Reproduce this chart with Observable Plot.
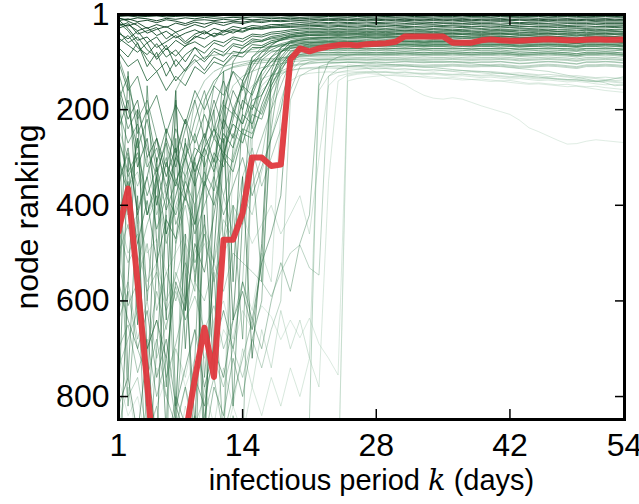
<!DOCTYPE html>
<html><head><meta charset="utf-8">
<script src="https://cdn.jsdelivr.net/npm/d3@7"></script>
<script src="https://cdn.jsdelivr.net/npm/@observablehq/plot@0.6"></script>
<style>body{margin:0;background:#fff;} svg{display:block}</style>
</head><body><div id="chart"></div>
<script>
const days = [1,2,3,4,5,6,7,8,9,10,11,12,13,14,15,16,17,18,19,20,21,22,23,24,25,26,27,28,29,30,31,32,33,34,35,36,37,38,39,40,41,42,43,44,45,46,47,48,49,50,51,52,53,54];
const xTickValues = [1, 14, 28, 42, 54];
const yTickValues = [1, 200, 400, 600, 800];
const xLabel = "infectious period k (days)";
const yLabel = "node ranking";

// highlighted node (red)
const redNode = "455 365 562 773 1000 1200 1250 880 763 | 656 759 472 472 416 300 300 318 315 | 95 72 78 72 68 65 64 66 63 | 62 61 58 47 47 47 47 47 60 | 60 60 55 53 55 56 56 55 54 | 53 54 55 55 54 53 54 54 53";

// nodes that stay near the top
const stableNodes = [
"2 2 1 2 3 2 2 1 2 | 1 2 2 1 1 2 1 2 1 | 1 1 2 1 1 1 2 1 1 | 1 1 1 2 1 1 1 1 1 | 2 1 1 1 1 1 1 2 1 | 1 1 1 1 1 1 1 1 1",
"5 4 6 5 4 6 5 4 5 | 4 5 3 4 4 3 4 3 3 | 4 3 3 4 3 4 3 3 4 | 3 4 3 3 3 4 3 3 3 | 3 4 3 3 3 3 4 3 3 | 3 3 3 3 4 3 3 3 3",
"9 12 8 10 14 9 11 8 10 | 7 9 8 7 8 6 7 6 7 | 6 7 6 6 5 6 6 5 6 | 6 5 6 6 5 6 6 5 5 | 6 5 5 6 5 5 6 5 5 | 6 5 5 5 6 5 5 5 6",
"14 10 16 13 18 12 15 20 13 | 12 14 11 13 10 12 11 9 10 | 9 10 9 8 9 9 8 9 8 | 9 8 8 9 8 8 9 8 8 | 9 8 8 8 9 8 8 8 9 | 8 8 9 8 8 8 9 8 8",
"20 25 18 30 22 28 19 24 17 | 21 16 18 15 17 14 15 13 14 | 12 13 12 11 12 11 12 11 11 | 12 11 11 12 11 11 12 11 11 | 11 12 11 11 11 12 11 11 12 | 11 11 11 12 11 11 11 12 11",
"8 15 24 40 32 26 38 30 22 | 28 19 24 18 20 16 18 15 16 | 15 14 15 14 13 14 14 13 14 | 14 13 14 14 13 14 14 14 13 | 14 14 13 14 14 14 13 14 14 | 13 14 14 14 13 14 14 14 14",
"30 22 35 28 45 36 50 40 33 | 42 30 36 26 30 24 26 22 22 | 20 18 19 17 18 17 18 17 17 | 18 17 17 16 17 17 18 17 17 | 16 17 17 17 16 17 18 17 17 | 16 17 17 17 17 16 17 17 17",
"12 30 55 48 70 58 45 62 50 | 38 46 34 40 30 32 28 26 24 | 23 22 21 21 20 21 20 20 21 | 20 20 21 20 19 20 21 20 20 | 20 19 20 20 21 20 20 19 20 | 20 21 20 20 20 19 20 20 20",
"40 52 36 60 48 75 55 68 46 | 52 40 44 35 38 30 32 28 27 | 26 25 24 24 23 24 23 23 24 | 23 23 24 23 22 23 23 24 23 | 23 22 23 23 23 24 23 22 23 | 23 23 24 23 23 22 23 23 23",
"25 18 42 35 28 52 38 58 42 | 35 48 38 32 36 28 30 29 28 | 28 27 27 26 27 26 26 27 26 | 26 26 25 26 26 27 26 26 25 | 26 26 26 27 26 25 26 26 26 | 26 25 26 26 27 26 26 26 25",
"50 65 80 60 95 72 88 66 58 | 70 55 60 48 52 42 44 38 36 | 33 31 30 30 29 30 29 29 30 | 29 30 29 28 29 29 30 29 29 | 28 29 30 29 29 28 29 30 29 | 29 28 29 29 30 29 29 28 29",
"60 45 70 85 62 90 75 100 70 | 82 60 68 52 58 46 48 42 40 | 36 34 33 33 32 33 32 32 33 | 32 33 32 31 32 33 32 32 33 | 32 31 32 33 32 32 31 32 32 | 33 32 32 31 32 32 33 32 32",
"35 60 48 75 90 65 110 85 70 | 95 72 80 62 66 52 55 47 44 | 40 38 36 36 35 36 35 35 36 | 35 36 35 34 35 35 36 35 35 | 34 35 36 35 35 35 34 35 35 | 35 36 35 35 34 35 35 35 36",
"70 90 60 110 80 130 95 120 85 | 100 78 88 66 72 56 58 50 47 | 43 41 39 39 38 39 38 38 39 | 38 39 38 37 38 38 39 38 38 | 37 38 39 38 38 37 38 39 38 | 38 37 38 38 39 38 38 37 38",
"18 35 62 95 120 100 140 115 95 | 118 90 100 78 82 64 66 56 52 | 46 44 42 42 41 42 41 41 42 | 41 42 41 40 41 41 42 41 41 | 40 41 42 41 41 40 41 42 41 | 41 40 41 41 42 41 41 40 41",
"80 110 95 140 120 160 130 150 110 | 125 100 108 86 90 70 70 60 55 | 49 47 45 45 44 45 44 44 45 | 44 45 44 43 44 44 45 44 44 | 43 44 45 44 44 43 44 45 44 | 44 43 44 44 45 44 44 43 44"
];

// nodes that drift in from mid ranks
const driftNodes = [
"150 220 180 300 260 340 280 380 300 | 250 310 220 260 180 200 140 110 80 | 60 55 52 50 49 50 49 48 49 | 48 49 48 47 48 48 49 48 48 | 47 48 49 48 48 47 48 49 48 | 48 47 48 48 49 48 48 47 48",
"240 180 320 260 400 310 360 270 330 | 280 240 300 200 230 160 120 90 70 | 58 55 54 53 52 53 52 52 53 | 52 53 52 51 52 52 53 52 52 | 51 52 53 52 52 51 52 53 52 | 52 51 52 52 53 52 52 51 52",
"100 160 130 210 170 250 190 230 160 | 200 150 170 120 140 100 90 75 66 | 60 58 57 56 55 56 55 55 56 | 55 56 55 54 55 56 55 55 54 | 55 56 55 55 54 55 56 55 55 | 54 55 55 56 55 55 54 55 56",
"300 380 260 420 340 460 380 300 360 | 280 330 250 280 210 230 170 130 90 | 66 62 60 59 58 59 58 58 59 | 58 59 58 57 58 59 58 58 57 | 58 59 58 58 57 58 59 58 58 | 57 58 58 59 58 58 57 58 59",
"180 130 250 200 310 240 290 220 270 | 210 260 190 210 150 170 120 100 80 | 68 65 63 62 61 62 61 61 62 | 61 62 61 60 61 62 61 61 60 | 61 62 61 61 60 61 62 61 61 | 60 61 61 62 61 61 60 61 62",
"420 350 480 390 520 430 470 380 440 | 350 400 300 330 250 260 190 140 95 | 72 68 66 65 64 65 64 64 65 | 64 65 64 63 64 65 64 64 63 | 64 65 64 64 63 64 65 64 64 | 63 64 64 65 64 64 63 64 65",
"120 200 280 220 330 270 350 300 250 | 320 260 290 230 250 190 210 150 110 | 78 72 70 69 68 69 68 68 69 | 68 69 68 67 68 69 68 68 67 | 68 69 68 68 67 68 69 68 68 | 67 68 68 69 68 68 67 68 69",
"260 330 290 380 320 410 350 390 310 | 360 290 320 250 270 210 220 160 120 | 84 76 74 73 72 73 72 72 73 | 72 73 72 71 72 73 72 72 71 | 72 73 72 72 71 72 73 72 72 | 71 72 72 73 72 72 71 72 73",
"200 270 230 320 280 360 300 340 280 | 300 240 270 210 230 180 170 130 105 | 85 80 78 77 76 77 76 76 77 | 76 77 76 75 76 77 76 76 75 | 76 77 76 76 75 77 78 77 76 | 75 76 77 78 76 76 75 76 77",
"350 290 410 340 450 380 420 350 400 | 330 370 290 310 240 250 200 150 115 | 92 85 82 81 80 81 80 80 81 | 80 81 80 79 80 81 80 80 79 | 80 81 80 80 79 80 82 81 80 | 79 80 81 83 80 80 79 80 82"
];

// nodes that jump up from low ranks
const jumpNodes = [
"520 610 560 700 640 760 690 600 250 | 180 140 120 110 105 100 98 96 95 | 92 90 89 88 88 87 88 87 87 | 88 87 87 86 87 88 87 87 86 | 87 88 87 87 86 87 89 88 87 | 86 87 88 90 87 87 86 87 89",
"900 1000 950 1100 980 1050 920 860 950 | 880 300 200 150 130 120 112 108 104 | 100 98 96 95 95 94 95 94 94 | 95 94 94 93 94 95 94 94 93 | 94 95 94 94 93 94 96 95 94 | 93 94 95 97 94 94 93 94 96",
"450 520 480 580 540 620 570 640 590 | 660 610 700 640 560 200 150 130 120 | 110 106 104 102 101 102 101 101 102 | 101 102 101 100 101 102 101 101 100 | 101 102 101 101 100 102 104 103 101 | 100 101 103 105 101 101 100 101 103",
"700 800 760 880 820 940 870 780 860 | 800 720 780 700 760 680 740 660 600 | 180 130 118 112 110 108 109 108 108 | 109 108 108 107 108 109 108 108 107 | 108 109 108 108 107 109 111 110 108 | 107 108 110 112 108 108 107 108 110",
"1000 1100 1050 1200 1100 1000 1080 950 1020 | 900 980 860 300 180 150 135 128 122 | 118 115 114 114 113 114 113 113 114 | 113 114 115 114 116 117 116 118 119 | 118 120 121 120 122 124 123 125 127 | 126 128 130 129 131 133 132 134 136",
"380 450 420 500 470 540 500 460 520 | 480 540 500 460 420 480 440 400 460 | 420 380 460 300 150 130 125 122 120 | 121 120 122 121 123 124 123 125 126 | 125 127 128 127 129 131 130 132 134 | 133 135 137 136 138 140 139 141 143",
"800 900 860 960 900 1000 940 880 1000 | 960 1050 1000 1100 1050 1000 1080 1020 1100 | 1050 1000 1080 1050 1100 1000 130 126 124 | 126 128 127 129 131 130 132 134 133 | 135 137 136 138 140 139 142 145 144 | 146 148 147 150 152 151 154 156 158",
"620 560 680 600 720 650 580 640 560 | 600 520 580 500 520 539 560 591 540 | 500 483 531 546 130 115 110 108 106 | 107 106 106 105 106 107 106 106 105 | 106 107 106 106 105 107 109 108 106 | 105 106 108 110 106 106 105 106 108",
"760 840 800 900 820 760 700 780 720 | 680 740 660 700 620 660 610 633 681 | 640 677 636 690 720 755 140 135 132 | 130 128 129 131 130 133 135 134 136 | 138 137 139 141 140 143 145 147 146 | 148 150 152 151 154 157 160 162 164",
"300 360 330 420 380 460 410 350 300 | 260 320 280 230 270 200 160 140 125 | 118 114 112 111 110 111 110 110 111 | 110 111 110 109 110 111 110 110 109 | 110 111 110 110 109 111 113 112 110 | 109 110 112 114 110 110 109 110 112",
"860 780 900 820 740 800 700 760 660 | 720 640 600 680 560 620 500 560 200 | 140 128 124 122 121 122 121 121 122 | 121 122 123 122 124 125 124 126 127 | 126 128 130 129 131 133 132 134 136 | 135 137 139 138 140 142 141 143 145",
"240 300 360 300 420 360 480 400 520 | 460 560 480 400 440 360 300 180 130 | 108 104 102 101 100 101 100 100 101 | 100 101 100 99 100 101 100 100 99 | 100 101 100 100 99 101 103 102 100 | 99 100 102 104 100 100 99 100 102",
"1100 1000 1150 1050 950 1050 900 980 880 | 950 850 900 820 880 780 840 760 820 | 740 800 720 780 350 140 128 124 122 | 123 122 124 126 125 127 126 128 130 | 129 131 133 132 134 136 135 137 139 | 138 140 142 141 143 146 148 147 149",
"500 440 560 480 620 540 600 520 580 | 180 140 120 112 108 104 102 100 98 | 96 94 93 92 92 91 92 91 91 | 92 91 91 90 91 92 91 91 90 | 91 92 91 91 90 91 93 92 91 | 90 91 92 94 91 91 90 91 93",
"950 880 1000 920 980 860 940 820 900 | 780 860 740 820 700 780 660 740 620 | 700 640 720 160 130 122 118 116 114 | 115 114 116 117 116 118 119 118 120 | 122 121 123 125 124 126 128 127 129 | 131 130 132 134 133 135 137 139 138",
"1000 920 1050 980 1100 1000 160 120 100 | 90 86 84 82 80 79 78 77 77 | 76 75 74 74 73 74 73 73 74 | 73 74 73 72 73 74 73 73 72 | 73 74 73 73 72 73 75 74 73 | 72 73 75 77 73 73 72 73 75",
"700 650 750 680 800 720 850 300 180 | 140 120 110 104 100 97 95 93 92 | 90 88 87 86 86 85 86 85 85 | 86 85 85 84 85 86 85 85 84 | 85 86 85 85 84 85 87 86 85 | 84 85 86 88 85 85 84 85 87",
"820 760 880 700 640 720 560 620 480 | 540 420 300 220 140 90 70 60 55 | 52 50 49 48 48 47 48 47 47 | 48 47 47 46 47 48 47 47 46 | 47 48 47 47 46 47 49 48 47 | 46 47 48 50 47 47 46 47 49",
"360 280 420 340 260 380 300 220 340 | 260 180 240 160 200 120 90 66 52 | 44 40 38 37 37 36 37 36 36 | 37 36 36 35 36 37 36 36 35 | 36 37 36 36 35 36 38 37 36 | 35 36 37 39 36 36 35 36 38",
"1050 980 1100 1000 900 960 820 880 760 | 820 700 760 640 580 660 520 140 80 | 66 62 60 59 58 59 58 58 59 | 58 59 58 57 58 59 58 58 57 | 58 59 58 58 57 58 60 59 58 | 57 58 59 61 58 58 57 58 60",
"560 640 700 620 760 680 820 740 660 | 780 700 620 700 560 640 520 460 380 | 120 70 62 60 59 60 59 59 60 | 59 60 59 58 59 60 59 59 58 | 59 60 59 59 58 59 61 60 59 | 58 59 60 62 59 59 58 59 61",
"260 340 300 420 360 300 440 380 460 | 400 340 420 360 300 380 320 260 200 | 90 72 68 66 65 66 65 65 66 | 65 66 65 64 65 66 65 65 64 | 65 66 65 65 64 65 67 66 65 | 64 65 66 68 65 65 64 65 67",
"160 240 200 280 340 260 320 240 180 | 260 200 140 200 150 110 80 64 54 | 48 45 43 42 42 41 42 41 41 | 42 41 41 40 41 42 41 41 40 | 41 42 41 41 40 41 43 42 41 | 40 41 42 44 41 41 40 41 43",
"980 1100 900 960 860 920 800 860 720 | 280 150 110 90 80 74 70 68 67 | 66 65 64 64 63 64 63 63 64 | 63 64 63 62 63 64 63 63 62 | 63 64 63 63 62 63 65 64 63 | 62 63 64 66 63 63 62 63 65",
"640 580 700 760 680 800 860 780 900 | 840 760 880 800 720 640 700 600 520 | 580 480 420 150 100 90 86 84 83 | 84 83 83 82 83 84 83 83 82 | 83 84 83 83 82 83 85 84 83 | 82 83 84 86 83 83 82 83 85",
"90 150 220 180 260 320 240 300 220 | 160 240 180 120 160 100 80 70 62 | 57 54 52 51 51 50 51 50 50 | 51 50 50 49 50 51 50 50 49 | 50 51 50 50 49 50 52 51 50 | 49 50 51 53 50 50 49 50 52",
"1150 1050 1000 1080 980 900 1000 920 840 | 900 780 840 720 800 680 600 200 100 | 80 76 74 73 73 72 73 72 72 | 73 72 72 71 72 73 72 72 71 | 72 73 72 72 71 72 74 73 72 | 71 72 73 75 72 72 71 72 74",
"460 400 520 440 380 480 400 340 440 | 360 300 380 300 240 320 260 200 150 | 100 88 86 85 84 85 84 84 85 | 84 85 84 83 84 85 84 84 83 | 84 85 84 84 83 84 86 85 84 | 83 84 85 87 84 84 83 84 86",
"740 680 620 700 580 660 540 600 500 | 440 520 380 460 340 280 360 300 240 | 160 110 100 97 96 97 96 96 97 | 96 97 96 95 96 97 96 96 95 | 96 97 96 96 95 96 98 97 96 | 95 96 97 99 96 96 95 96 98",
"880 960 1020 940 1080 1000 960 1040 920 | 1000 880 960 840 920 260 130 100 92 | 88 86 85 84 84 83 84 83 83 | 84 83 83 82 83 84 83 83 82 | 83 84 83 83 82 83 85 84 83 | 82 83 84 86 83 83 82 83 85"
];

// nodes with large early swings
const erraticNodes = [
"820 300 650 150 480 880 260 700 400 | 950 350 120 560 200 90 76 68 64 | 62 60 59 58 58 57 58 57 57 | 58 57 57 56 57 58 57 57 56 | 57 58 57 57 56 57 59 58 57 | 56 57 58 60 57 57 56 57 59",
"200 760 380 900 520 240 820 460 1000 | 300 700 180 820 420 160 96 80 74 | 70 68 67 66 66 65 66 65 65 | 66 65 65 64 65 66 65 65 64 | 65 66 65 65 64 65 67 66 65 | 64 65 66 68 65 65 64 65 67",
"600 120 440 820 300 640 180 540 860 | 420 760 260 640 340 720 480 120 70 | 56 52 50 49 49 48 49 48 48 | 49 48 48 47 48 49 48 48 47 | 48 49 48 48 47 48 50 49 48 | 47 48 49 51 48 48 47 48 50",
"1000 560 200 720 900 400 160 620 340 | 880 500 220 100 70 60 56 52 50 | 48 46 45 44 44 43 44 43 43 | 44 43 43 42 43 44 43 43 42 | 43 44 43 43 42 43 45 44 43 | 42 43 44 46 43 43 42 43 45",
"340 820 560 1000 700 420 860 600 300 | 760 540 900 400 680 300 560 240 110 | 88 84 82 81 81 80 81 80 80 | 81 80 80 79 80 81 80 80 79 | 80 81 80 80 79 80 82 81 80 | 79 80 81 83 80 80 79 80 82",
"140 420 260 600 340 780 480 260 560 | 360 200 480 280 140 240 120 90 78 | 72 70 69 68 68 67 68 67 67 | 68 67 67 66 67 68 67 67 66 | 67 68 67 67 66 67 69 68 67 | 66 67 68 70 67 67 66 67 69"
];

// nodes that end up lower in the ranking
const tailNodes = [
"900 1000 950 1100 1050 1150 1000 1100 1050 | 1200 1100 1150 1050 1100 1000 1050 1100 1000 | 1050 1100 1000 1050 1100 1000 105 108 112 | 122 132 140 148 160 170 176 178 175 | 178 185 192 198 204 210 222 238 246 | 255 264 272 271 266 263 265 267 269",
"850 950 900 1000 940 1050 980 1100 1000 | 1080 980 1050 950 1020 900 980 880 950 | 860 920 850 110 104 102 101 102 103 | 104 105 106 108 110 111 112 114 116 | 118 119 120 122 124 126 128 130 132 | 134 136 137 138 140 141 139 135 131",
"420 500 460 560 520 600 550 480 540 | 460 520 430 470 380 420 330 260 180 | 120 100 96 95 94 95 94 94 95 | 94 95 96 97 98 99 100 100 101 | 102 104 106 108 110 112 114 116 118 | 120 124 128 132 136 140 144 150 148"
];

const parse = s => s.split(/\s+/).filter(t => t && t !== "|").map(Number);

const groups = [
  [stableNodes, 1.0], [driftNodes, 0.9], [jumpNodes, 0.7], [erraticNodes, 0.8], [tailNodes, 1.0]
];
const allNodes = [];
groups.forEach(([list, f]) => list.forEach(s => allNodes.push({vals: parse(s), fade: f})));
const finalOf = v => v[v.length - 1];
allNodes.sort((a, b) => finalOf(b.vals) - finalOf(a.vals));

const shade = d3.scaleLinear()
  .domain([1, 25, 60, 100, 150, 280])
  .range(["#07361a", "#134f2a", "#2a6e42", "#5a9670", "#94c0a3", "#c3dccb"])
  .clamp(true);
const alpha = d3.scaleLinear().domain([1, 40, 100, 160]).range([0.95, 0.8, 0.62, 0.5]).clamp(true);

const greenRows = [];
allNodes.forEach((node, n) => {
  const f = finalOf(node.vals);
  const col = shade(f), op = alpha(f) * node.fade;
  node.vals.forEach((r, j) => greenRows.push({k: days[j], rank: r, id: n, color: col, op}));
});
const redRows = parse(redNode).map((r, j) => ({k: days[j], rank: r}));

const font = "'Liberation Sans', Arial, Helvetica, sans-serif";

const chart = Plot.plot({
  width: 639,
  height: 504,
  marginLeft: 118,
  marginRight: 15,
  marginTop: 14,
  marginBottom: 85,
  style: {fontFamily: font, background: "white", overflow: "visible"},
  x: {domain: [1, 54]},
  y: {domain: [1, 848], reverse: true},
  color: {type: "identity"},
  opacity: {type: "identity"},
  marks: [
    Plot.line(greenRows, {x: "k", y: "rank", z: "id", stroke: "color", strokeOpacity: "op", strokeWidth: 1, clip: true}),
    Plot.line(redRows, {x: "k", y: "rank", stroke: "#e0393e", strokeWidth: 6, strokeOpacity: 0.95, strokeLinejoin: "round", clip: true}),
    Plot.axisX(xTickValues, {tickSize: -10, tickPadding: 24, fontSize: 32, label: null, strokeWidth: 1.5, fill: "black"}),
    Plot.axisX(xTickValues, {anchor: "top", tickSize: -10, tickFormat: () => "", label: null, strokeWidth: 1.5}),
    Plot.axisY(yTickValues, {tickSize: -10, tickPadding: 19, fontSize: 32, label: null, strokeWidth: 1.5, fill: "black"}),
    Plot.axisY(yTickValues, {anchor: "right", tickSize: -10, tickFormat: () => "", label: null, strokeWidth: 1.5}),
    Plot.frame({stroke: "black", strokeWidth: 3}),
    Plot.text([xLabel], {frameAnchor: "bottom", lineAnchor: "middle", textAnchor: "middle", dy: 61, fontSize: 29, fill: "black", text: d => d}),
    Plot.text([yLabel], {frameAnchor: "left", lineAnchor: "middle", textAnchor: "middle", rotate: -90, dx: -91, fontSize: 32, fill: "black", text: d => d})
  ]
});
document.getElementById("chart").appendChild(chart);

// italic math-style k in the x label
chart.querySelectorAll("text").forEach(t => {
  if (t.textContent === xLabel) {
    t.textContent = "";
    const parts = [["infectious period ", null], ["k", "italic"], [" (days)", null]];
    parts.forEach(([s, st]) => {
      const ts = document.createElementNS("http://www.w3.org/2000/svg", "tspan");
      ts.textContent = s;
      if (st) { ts.setAttribute("font-style", "italic"); ts.setAttribute("font-family", "'DejaVu Serif', serif"); }
      t.appendChild(ts);
    });
  }
});
</script>
</body></html>
